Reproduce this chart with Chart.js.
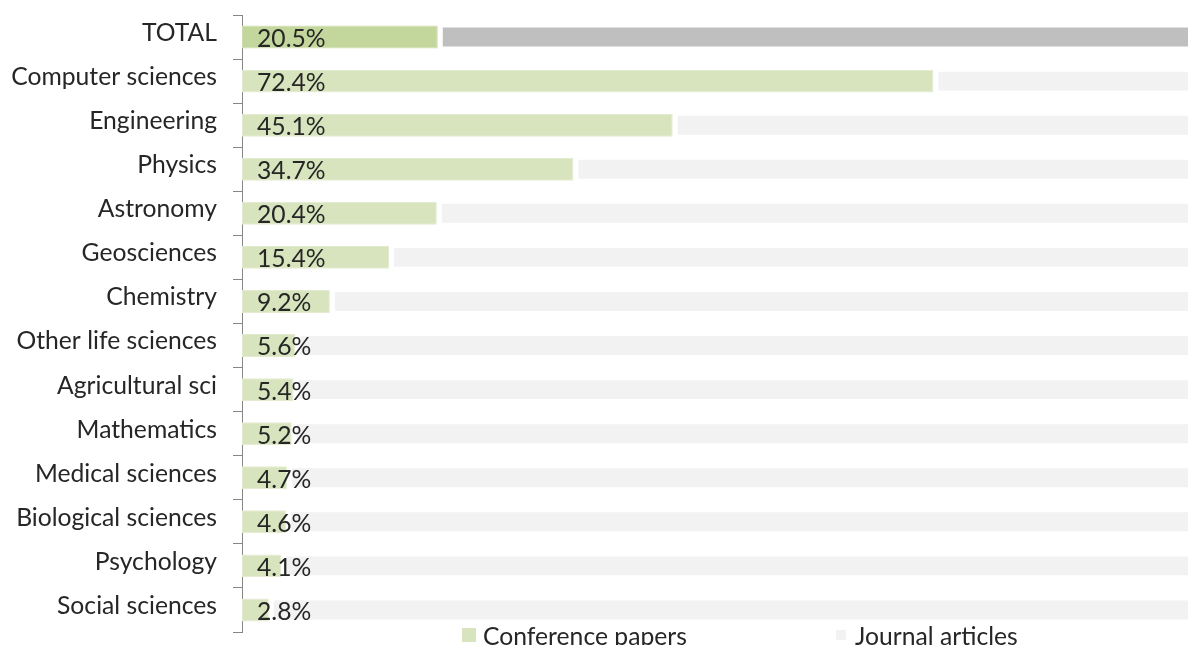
<!DOCTYPE html>
<html>
<head>
<meta charset="utf-8">
<script src="https://cdn.jsdelivr.net/npm/chart.js@4.4.1/dist/chart.umd.min.js"></script>
<style>
  html, body { margin: 0; padding: 0; background: #ffffff; overflow: hidden; }
  #wrap { position: absolute; left: 0; top: 0; width: 1200px; height: 645px; }
  #legend { position: absolute; left: 0; top: 0; width: 1200px; height: 645px; pointer-events: none;
            font-family: Lato, "Open Sans", sans-serif; font-size: 24.7px; color: #262626; }
  .item { position: absolute; top: 621px; height: 28px; display: flex; align-items: center; white-space: nowrap; }
  .swatch { width: 14px; height: 14px; box-sizing: border-box; margin-right: 7px; }
</style>
</head>
<body>
<div id="wrap"><canvas id="chart" width="1200" height="645"></canvas></div>
<div id="legend"></div>
<script>
// Share of output by publication type, per field
const categories = [
  'TOTAL', 'Computer sciences', 'Engineering', 'Physics', 'Astronomy', 'Geosciences',
  'Chemistry', 'Other life sciences', 'Agricultural sci', 'Mathematics',
  'Medical sciences', 'Biological sciences', 'Psychology', 'Social sciences'
];
const conferencePapers = [20.5, 72.4, 45.1, 34.7, 20.4, 15.4, 9.2, 5.6, 5.4, 5.2, 4.7, 4.6, 4.1, 2.8];
const journalArticles  = [79.5, 27.6, 54.9, 65.3, 79.6, 84.6, 90.8, 94.4, 94.6, 94.8, 95.3, 95.4, 95.9, 97.2];
const seriesNames = ['Conference papers', 'Journal articles'];

const confColor = '#d7e4bd', confTotalColor = '#c3d69b';
const journColor = '#f2f2f2', journTotalColor = '#bfbfbf';
const textColor = '#262626', axisColor = '#868686';
const fontFamily = 'Lato, "Open Sans", sans-serif';
const fontSize = 24.7;

Chart.defaults.font.family = fontFamily;
Chart.defaults.color = textColor;

// Percent labels written at the start of every conference bar
const valueLabels = {
  id: 'valueLabels',
  afterDatasetsDraw(chart) {
    const ctx = chart.ctx;
    const meta = chart.getDatasetMeta(0);
    const x0 = chart.scales.x.getPixelForValue(0);
    ctx.save();
    ctx.font = fontSize + 'px ' + fontFamily;
    ctx.fillStyle = textColor;
    ctx.textAlign = 'left';
    ctx.textBaseline = 'middle';
    meta.data.forEach((bar, i) => {
      ctx.fillText(conferencePapers[i].toFixed(1) + '%', x0 + 15, bar.y + 2);
    });
    ctx.restore();
  }
};

const chart = new Chart(document.getElementById('chart'), {
  type: 'bar',
  data: {
    labels: categories,
    datasets: [
      {
        label: seriesNames[0],
        data: conferencePapers,
        backgroundColor: categories.map((c, i) => i === 0 ? confTotalColor : confColor),
        borderColor: categories.map((c, i) => i === 0 ? '#cddcac' : '#e2ebd0'),
        borderWidth: 1,
        borderSkipped: false,
        barPercentage: 0.52,
        categoryPercentage: 1
      },
      {
        label: seriesNames[1],
        data: journalArticles,
        backgroundColor: categories.map((c, i) => i === 0 ? journTotalColor : journColor),
        borderColor: '#ffffff',
        borderWidth: { left: 5, top: 2, bottom: 2, right: 0 },
        borderSkipped: false,
        barPercentage: 0.52,
        categoryPercentage: 1
      }
    ]
  },
  options: {
    indexAxis: 'y',
    responsive: false,
    animation: false,
    layout: { padding: { top: 15, bottom: 13, right: 3, left: 0 } },
    plugins: { legend: { display: false }, tooltip: { enabled: false } },
    scales: {
      x: { stacked: true, min: 0, max: 100, display: false },
      y: {
        stacked: true,
        afterFit(scale) {
          scale.width = 242;
          scale.paddingTop = 0;
          scale.paddingBottom = 0;
        },
        grid: { drawOnChartArea: false, drawTicks: true, tickLength: 9, color: axisColor, offset: true },
        border: { display: true, color: axisColor, width: 1 },
        ticks: { padding: 16, labelOffset: -4, color: textColor, font: { size: fontSize } }
      }
    }
  },
  plugins: [valueLabels]
});

// Legend row under the plot
const legend = document.getElementById('legend');
const legendItems = [
  { text: seriesNames[0], color: confColor, left: 462, border: '0px' },
  { text: seriesNames[1], color: journColor, left: 834, border: '2.5px' }
];
legendItems.forEach(it => {
  const d = document.createElement('div');
  d.className = 'item';
  d.style.left = it.left + 'px';
  const sw = document.createElement('span');
  sw.className = 'swatch';
  sw.style.background = it.color;
  sw.style.border = it.border + ' solid #ffffff';
  const t = document.createElement('span');
  t.textContent = it.text;
  d.appendChild(sw);
  d.appendChild(t);
  legend.appendChild(d);
});
</script>
</body>
</html>
